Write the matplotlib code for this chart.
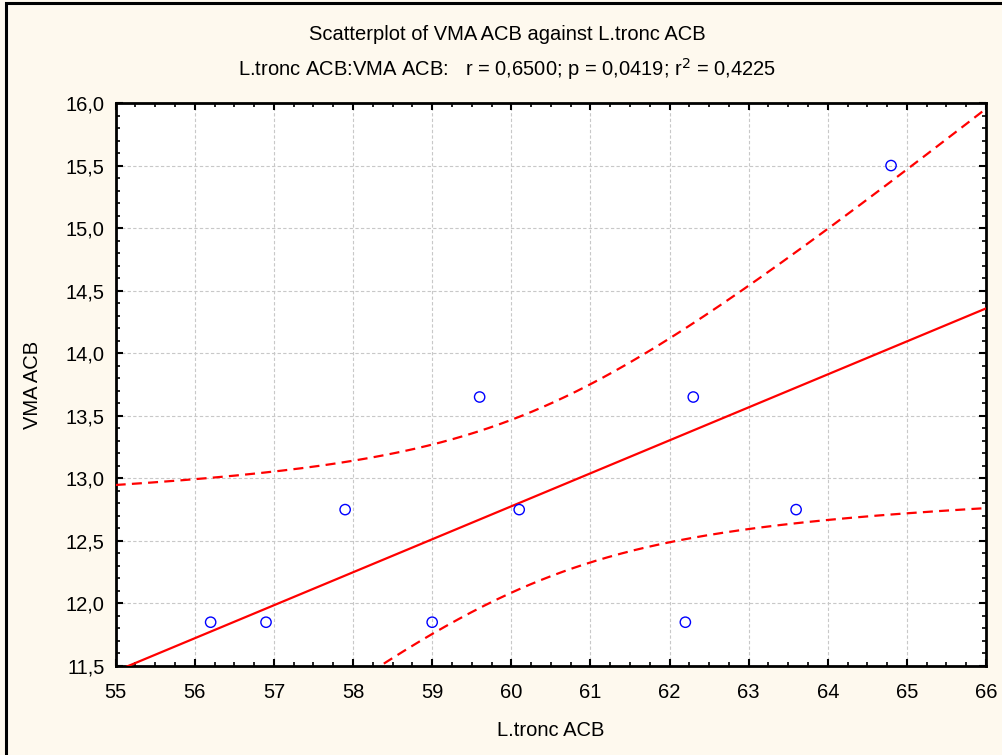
import numpy as np
import matplotlib
matplotlib.use("Agg")
import matplotlib.pyplot as plt
from matplotlib.patches import Rectangle
from matplotlib.ticker import MultipleLocator, FuncFormatter

plt.rcParams['font.family'] = ['Liberation Sans', 'DejaVu Sans']

# Observations
l_tronc = [56.2, 56.9, 57.9, 59.0, 59.6, 60.1, 62.2, 62.3, 63.6, 64.8]
vma = [11.85, 11.85, 12.75, 11.85, 13.65, 12.75, 11.85, 13.65, 12.75, 15.5]

x_ticks = [55, 56, 57, 58, 59, 60, 61, 62, 63, 64, 65, 66]
y_ticks = [11.5, 12.0, 12.5, 13.0, 13.5, 14.0, 14.5, 15.0, 15.5, 16.0]

title_1 = "Scatterplot of VMA ACB against L.tronc ACB"
title_2 = r"L.tronc ACB:VMA ACB:   r = 0,6500; p = 0,0419; r$^2$ = 0,4225"

bg = "#fef9ee"
fs = 14.5

# Least-squares fit with 95% confidence band for the mean
x = np.array(l_tronc)
y = np.array(vma)
n = len(x)
slope, intercept = np.polyfit(x, y, 1)
resid = y - (intercept + slope * x)
s = np.sqrt(np.sum(resid ** 2) / (n - 2))
sxx = np.sum((x - x.mean()) ** 2)
t_crit = 2.306  # t(0.975, df=8)
xs = np.linspace(x_ticks[0], x_ticks[-1], 400)
ys = intercept + slope * xs
half = t_crit * s * np.sqrt(1.0 / n + (xs - x.mean()) ** 2 / sxx)

fig = plt.figure(figsize=(10.02, 7.55), dpi=100, facecolor=bg)
fig.patches.append(Rectangle((6 / 1002, -0.05), 1.2, 1 - 3 / 755 + 0.05,
                             transform=fig.transFigure, fill=False,
                             edgecolor="black", linewidth=2.2, zorder=0))

ax = fig.add_axes([115.7 / 1002, 1 - 666 / 755, (986 - 115.7) / 1002, (666 - 103) / 755])
ax.set_facecolor("white")

dash = (0, (4.5, 2.8))
ax.plot(xs, ys, color="#ff0000", lw=1.6, zorder=3)
ax.plot(xs, ys + half, color="#ff0000", lw=1.6, ls=dash, zorder=3)
ax.plot(xs, ys - half, color="#ff0000", lw=1.6, ls=dash, zorder=3)
ax.scatter(x, y, s=55, facecolors="none", edgecolors="#0000ff", linewidths=1.0, zorder=4)

ax.set_xlim(x_ticks[0], x_ticks[-1])
ax.set_ylim(y_ticks[0], y_ticks[-1])
ax.set_xticks(x_ticks)
ax.set_yticks(y_ticks)
ax.xaxis.set_minor_locator(MultipleLocator(0.25))
ax.yaxis.set_minor_locator(MultipleLocator(0.1))
ax.yaxis.set_major_formatter(FuncFormatter(lambda v, p: f"{v:.1f}".replace(".", ",")))
ax.tick_params(which="both", direction="in", top=True, right=True, colors="black",
               labelsize=fs)
ax.tick_params(which="major", length=5, width=1.5)
ax.tick_params(which="minor", length=3, width=1.2)
ax.tick_params(axis="x", which="major", pad=12)
ax.tick_params(axis="y", which="major", pad=8)
for sp in ax.spines.values():
    sp.set_linewidth(2.0)

ax.grid(True, which="major", color="#c8c8c8", ls=(0, (3, 2)), lw=0.8, zorder=0)
ax.set_axisbelow(True)

ax.set_xlabel("L.tronc ACB", fontsize=fs)
ax.xaxis.set_label_coords(0.5, -(731 - 666) / (666 - 103))
ax.xaxis.label.set_va("center")
ax.set_ylabel("VMA ACB", fontsize=fs)
ax.yaxis.set_label_coords(-(115.7 - 33) / (986 - 115.7), 0.5)
ax.yaxis.label.set_va("center")

fig.text(507 / 1002, 1 - 34 / 755, title_1, ha="center", va="center", fontsize=fs)
fig.text(507 / 1002, 1 - 69 / 755, title_2, ha="center", va="center", fontsize=fs)

fig.savefig("out.png", dpi=100, facecolor=bg)
